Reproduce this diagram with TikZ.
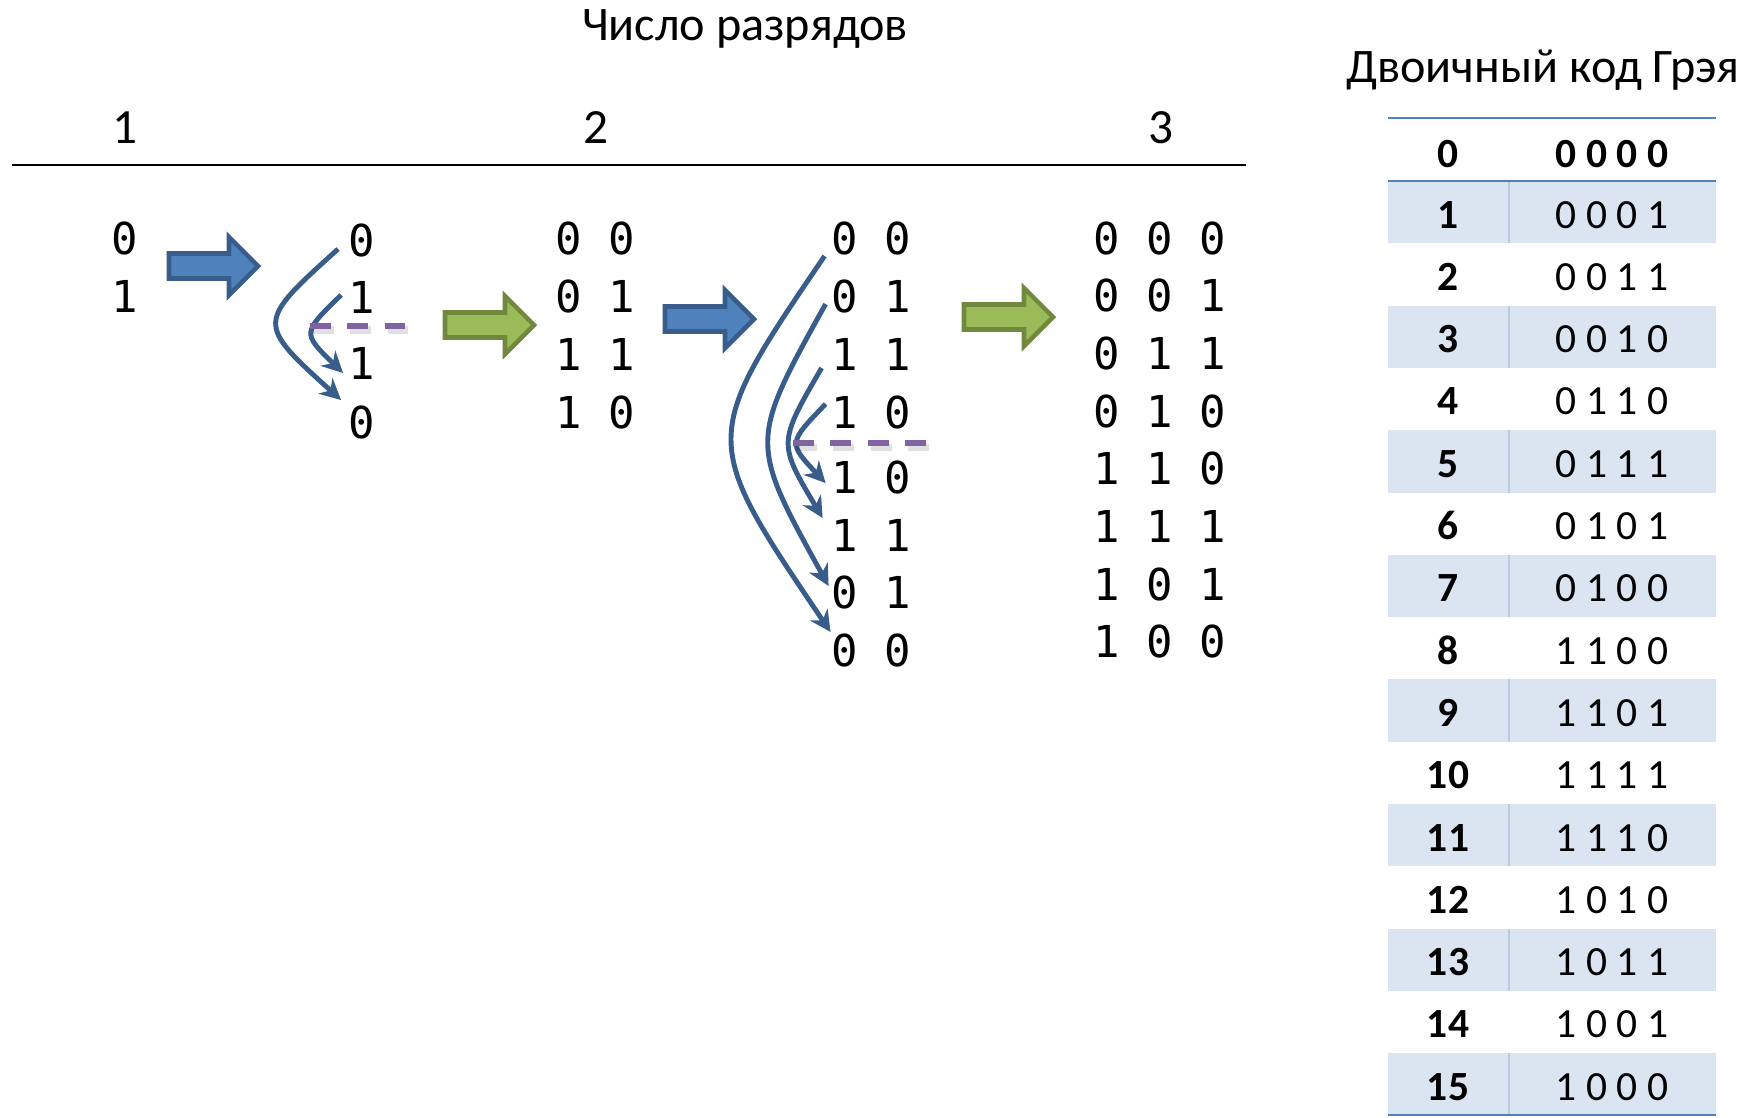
\documentclass[tikz,border=0pt]{standalone}
\usepackage{fontspec}
\setmainfont{Carlito}
\newfontfamily\bitfont{DejaVu Sans Mono}
\usetikzlibrary{arrows.meta}
\definecolor{officeblue}{RGB}{79,129,189}
\definecolor{officeblueedge}{RGB}{56,93,138}
\definecolor{officegreen}{RGB}{155,187,89}
\definecolor{officegreenedge}{RGB}{113,137,63}
\definecolor{officepurple}{RGB}{128,100,162}
\definecolor{officerow}{RGB}{219,229,241}
\definecolor{officerule}{RGB}{184,204,228}

\tikzset{
  bit/.style={font=\bitfont\fontsize{12.5}{15}\selectfont, inner sep=0pt},
  caption/.style={anchor=base, font=\fontsize{13.7}{16}\selectfont},
  colnum/.style={anchor=base, font=\fontsize{14}{17}\selectfont},
  cell/.style={anchor=base, font=\fontsize{11.8}{14}\selectfont},
  mirror/.style={draw=officeblueedge, line width=1.4pt, -{Stealth[length=6pt,width=6pt]}},
  cut/.style={draw=officepurple, line width=1.5pt, dash pattern=on 6pt off 4.6pt},
  cutshadow/.style={draw=black, opacity=0.12, line width=2pt, dash pattern=on 6pt off 4.6pt},
  fatarrow/.pic={\draw[pic actions, line width=1.3pt] (2,-12.5) -- (62,-12.5) -- (62,-29) -- (91,0) -- (62,29) -- (62,12.5) -- (2,12.5) -- cycle;}
}

\begin{document}
\begin{tikzpicture}[x=0.01cm, y=-0.01cm]
\useasboundingbox (0,0) rectangle (1749,1117);

\node[caption] (title) at (745,40) {Число разрядов};
\node[colnum] (n1) at (125,143) {1};
\node[colnum] (n2) at (596,143) {2};
\node[colnum] (n3) at (1161,143) {3};
\draw[line width=0.6pt] (12,165) -- (1246,165);

\node[bit] (a1) at (125,238) {0};
\node[bit] (a2) at (125,296) {1};
\foreach \t/\y [count=\i] in {0/240,1/297,1/363,0/422}
  \node[bit] (b\i) at (362,\y) {\t};
\foreach \t [count=\i] in {0 0,0 1,1 1,1 0}
  \node[bit] (c\i) at (595,{238+58*(\i-1)}) {\t};
\foreach \t/\y [count=\i] in {0 0/238,0 1/296,1 1/354,1 0/412,1 0/477,1 1/535,0 1/592,0 0/650}
  \node[bit] (d\i) at (871,\y) {\t};
\foreach \t [count=\i] in {0 0 0,0 0 1,0 1 1,0 1 0,1 1 0,1 1 1,1 0 1,1 0 0}
  \node[bit] (e\i) at (1160,{238+57.7*(\i-1)}) {\t};

\pic[draw=officeblueedge, fill=officeblue] at (167,266) {fatarrow};
\pic[draw=officegreenedge, fill=officegreen] at (443,325) {fatarrow};
\pic[draw=officeblueedge, fill=officeblue] at (663,319) {fatarrow};
\pic[draw=officegreenedge, fill=officegreen] at (962,317) {fatarrow};

\draw[mirror] ([shift={(-10,9)}]b1.west) .. controls (256,323) .. ([shift={(-7,-22)}]b4.west);
\draw[mirror] ([shift={(-7,-2)}]b2.west) .. controls (302,333) .. ([shift={(-5,10)}]b3.west);
\draw[mirror] ([shift={(-6,18)}]d1.west) .. controls (700,439) .. ([shift={(0,-18)}]d8.west);
\draw[mirror] ([shift={(-5,8)}]d2.west) .. controls (749,442) .. ([shift={(-2,-6)}]d7.west);
\draw[mirror] ([shift={(-9,14)}]d3.west) .. controls (778,443) .. ([shift={(-8,-17)}]d6.west);
\draw[mirror] ([shift={(-5,-8)}]d4.west) .. controls (788,443) .. ([shift={(-5,6)}]d5.west);

\draw[cutshadow] (313,330) -- (408,330);
\draw[cut] (310,326) -- (405,326);
\draw[cutshadow] (796,447) -- (931,447);
\draw[cut] (793,443) -- (928,443);

\node[caption] (graytitle) at (1543,82) {Двоичный код Грэя};
\foreach \i in {1,3,...,15} {
  \fill[officerow] (1388,{181+62.3*(\i-1)}) rectangle (1716,{181+62.3*\i});
  \draw[officerule, line width=0.4pt] (1509,{181+62.3*(\i-1)}) -- (1509,{181+62.3*\i});
}
\draw[officeblue, line width=0.5pt] (1388,118) -- (1716,118);
\draw[officeblue, line width=0.6pt] (1388,181) -- (1716,181);
\draw[officeblue, line width=0.7pt] (1388,1115) -- (1716,1115);
\node[cell] (k0) at (1448,167) {\bfseries 0};
\node[cell] (g0) at (1612,167) {\bfseries 0 0 0 0};
\foreach \g [count=\i] in {0 0 0 1,0 0 1 1,0 0 1 0,0 1 1 0,0 1 1 1,0 1 0 1,0 1 0 0,1 1 0 0,1 1 0 1,1 1 1 1,1 1 1 0,1 0 1 0,1 0 1 1,1 0 0 1,1 0 0 0} {
  \node[cell] (k\i) at (1448,{228+62.3*(\i-1)}) {\bfseries\i};
  \node[cell] (g\i) at (1612,{228+62.3*(\i-1)}) {\g};
}
\end{tikzpicture}
\end{document}
